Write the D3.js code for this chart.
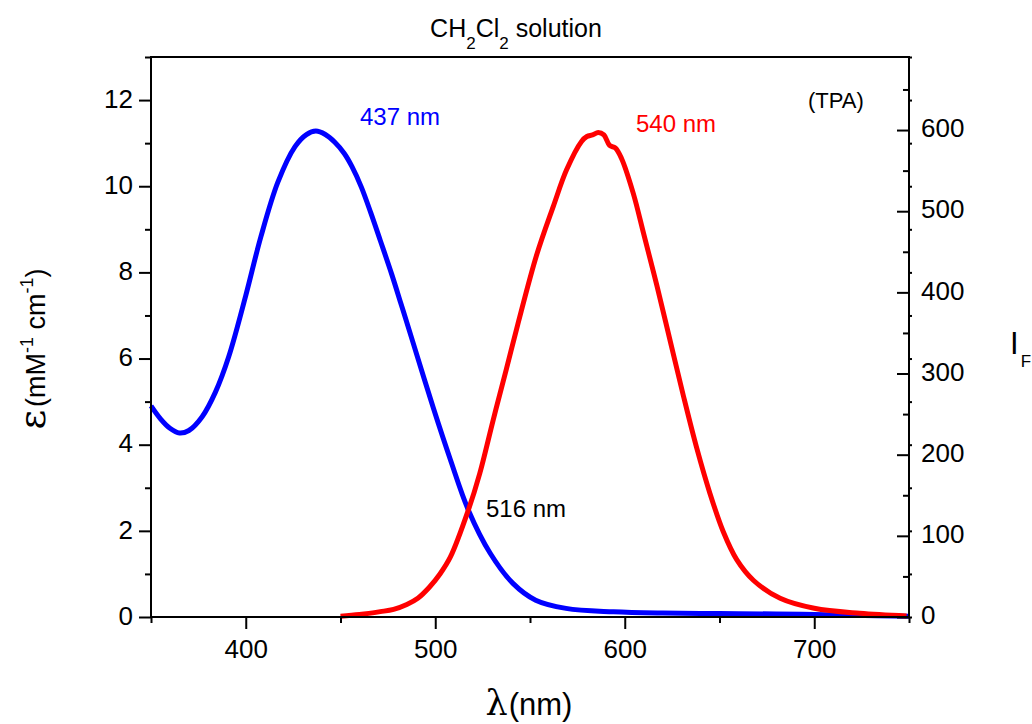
<!DOCTYPE html>
<html>
<head>
<meta charset="utf-8">
<script src="https://cdn.jsdelivr.net/npm/d3@7"></script>
<style>
    body { margin: 0; background: #fff; }
    svg text { font-family: "Liberation Sans", Arial, sans-serif; fill: #000; }
</style>
</head>
<body>
<div id="chart"></div>
<script>
// absorption (left axis, mM-1 cm-1)
let absWavelength = [350, 355, 360, 365, 370, 377, 384, 391, 400, 408, 417, 426, 432, 437, 442, 447, 452, 456, 461, 466, 471, 477, 482, 488, 499, 508, 517.5, 529, 541, 553, 569, 594, 620, 650, 680, 700, 720, 750];
let absEpsilon = [4.9, 4.6, 4.38, 4.27, 4.33, 4.65, 5.22, 6.04, 7.46, 8.83, 10.1, 10.92, 11.2, 11.28, 11.2, 11.02, 10.76, 10.46, 9.98, 9.38, 8.74, 7.96, 7.26, 6.41, 4.85, 3.65, 2.48, 1.48, 0.78, 0.39, 0.2, 0.12, 0.09, 0.08, 0.07, 0.06, 0.04, 0.02];
// emission (right axis, I_F)
let emWavelength = [450, 460, 471, 478, 485, 491, 497, 502.5, 508, 517.5, 523.5, 530.6, 537.6, 543.5, 553.5, 562.3, 569.3, 577.2, 580, 583, 586, 589, 592, 595, 598.3, 604.5, 610, 617, 624, 631, 638, 645, 652, 659, 668, 682, 700, 724, 748.7];
let emIntensity = [1, 3, 6.6, 9.5, 15.5, 23.5, 37, 53, 74, 132, 177, 243, 306, 360, 446, 506, 551, 586, 592, 594, 597, 594, 581, 578, 565, 522, 472, 408, 340, 272, 208, 152, 105, 71, 45, 23, 10.7, 4.5, 1.2];

let xMajor = [400, 500, 600, 700];
let xMinor = [350, 450, 550, 650, 750];
let yLeftMajor = [0, 2, 4, 6, 8, 10, 12];
let yLeftMinor = [1, 3, 5, 7, 9, 11, 13];
let yRightMajor = [0, 100, 200, 300, 400, 500, 600];
let yRightMinor = [50, 150, 250, 350, 450, 550, 650];

let annotations = [
    {text: '437 nm', x: 360, y: 125, color: '#0000ff', size: 24},
    {text: '540 nm', x: 636, y: 132, color: '#ff0000', size: 24},
    {text: '(TPA)', x: 808, y: 108, color: '#000', size: 22},
    {text: '516 nm', x: 486, y: 517, color: '#000', size: 24}
];

const width = 1032, height = 724;
const margin = {top: 57, right: 123, bottom: 107, left: 151};

let svg = d3.select('#chart').append('svg').attr('width', width).attr('height', height);

let x = d3.scaleLinear().domain([350, 750]).range([margin.left, width - margin.right]);
let yL = d3.scaleLinear().domain([0, 13]).range([height - margin.bottom, margin.top]);
let yR = d3.scaleLinear().domain([0, 690]).range([height - margin.bottom, margin.top]);

let line = (yScale) => d3.line().x((d) => x(d[0])).y((d) => yScale(d[1])).curve(d3.curveCatmullRom.alpha(0.5));

// curves
svg.append('path').datum(d3.zip(absWavelength, absEpsilon))
    .attr('fill', 'none').attr('stroke', '#0000ff').attr('stroke-width', 5)
    .attr('d', line(yL));
svg.append('path').datum(d3.zip(emWavelength, emIntensity))
    .attr('fill', 'none').attr('stroke', '#ff0000').attr('stroke-width', 5)
    .attr('d', line(yR));

// frame
let x0 = x.range()[0], x1 = x.range()[1], yb = yL.range()[0], yt = yL.range()[1];
svg.append('path').attr('d', `M${x0},${yt}H${x1}V${yb}H${x0}Z`)
    .attr('fill', 'none').attr('stroke', '#000').attr('stroke-width', 2);

let axisFont = 26;

// bottom axis
let bottom = svg.append('g').attr('transform', `translate(0,${yb})`);
bottom.call(d3.axisBottom(x).tickValues(xMajor).tickSize(12).tickFormat(d3.format('d')));
bottom.append('g').call(d3.axisBottom(x).tickValues(xMinor).tickSize(6).tickFormat(''));
bottom.selectAll('.domain').remove();
bottom.selectAll('text').attr('font-size', axisFont).attr('dy', '1.0em');

// left axis
let left = svg.append('g').attr('transform', `translate(${x0},0)`);
left.call(d3.axisLeft(yL).tickValues(yLeftMajor).tickSize(12).tickFormat(d3.format('d')));
left.append('g').call(d3.axisLeft(yL).tickValues(yLeftMinor).tickSize(6).tickFormat(''));
left.selectAll('.domain').remove();
left.selectAll('text').attr('font-size', axisFont).attr('x', -18).attr('dy', '0.28em');

// right axis: ticks inside, labels outside
let right = svg.append('g').attr('transform', `translate(${x1},0)`);
right.call(d3.axisLeft(yR).tickValues(yRightMajor).tickSize(12).tickFormat(d3.format('d')));
right.append('g').call(d3.axisLeft(yR).tickValues(yRightMinor).tickSize(6).tickFormat(''));
right.selectAll('.domain').remove();
right.selectAll('text').attr('font-size', axisFont).attr('text-anchor', 'start').attr('x', 12).attr('dy', '0.26em');
// little mirrored marks of the left scale
right.append('g').call(d3.axisRight(yL).tickValues(yLeftMajor.concat(yLeftMinor)).tickSize(3).tickFormat(''))
    .selectAll('.domain').remove();

svg.selectAll('.tick line').attr('stroke', '#000').attr('stroke-width', 2);

// title
let title = svg.append('text').attr('x', 516).attr('y', 37).attr('text-anchor', 'middle').attr('font-size', 25);
title.append('tspan').text('CH');
title.append('tspan').text('2').attr('font-size', 17).attr('dy', 12);
title.append('tspan').text('Cl').attr('dy', -12);
title.append('tspan').text('2').attr('font-size', 17).attr('dy', 12);
title.append('tspan').text(' solution').attr('dy', -12);

// x label
let xLabel = svg.append('text').attr('x', 529).attr('y', 715).attr('text-anchor', 'middle').attr('font-size', 31);
xLabel.append('tspan').text('λ').attr('font-family', '"DejaVu Serif", serif').attr('font-size', 35);
xLabel.append('tspan').text('(nm)').attr('dx', 1);

// left y label
let yLabel = svg.append('text').attr('transform', 'translate(45,349) rotate(-90)')
    .attr('text-anchor', 'middle').attr('font-size', 27);
yLabel.append('tspan').text('ε').attr('font-family', '"DejaVu Serif", serif').attr('font-size', 38);
yLabel.append('tspan').text('(mM').attr('dx', 3);
yLabel.append('tspan').text('-1').attr('font-size', 18).attr('dy', -12);
yLabel.append('tspan').text(' cm').attr('dy', 12);
yLabel.append('tspan').text('-1').attr('font-size', 18).attr('dy', -12);
yLabel.append('tspan').text(')').attr('dy', 12);

// right y label
let rLabel = svg.append('text').attr('x', 1010).attr('y', 354).attr('font-size', 31);
rLabel.append('tspan').text('I');
rLabel.append('tspan').text('F').attr('font-size', 17).attr('dx', 2).attr('dy', 13);

// annotations
svg.append('g').selectAll('text').data(annotations).enter().append('text')
    .attr('x', (d) => d.x).attr('y', (d) => d.y)
    .attr('font-size', (d) => d.size)
    .style('fill', (d) => d.color)
    .text((d) => d.text);
</script>
</body>
</html>
